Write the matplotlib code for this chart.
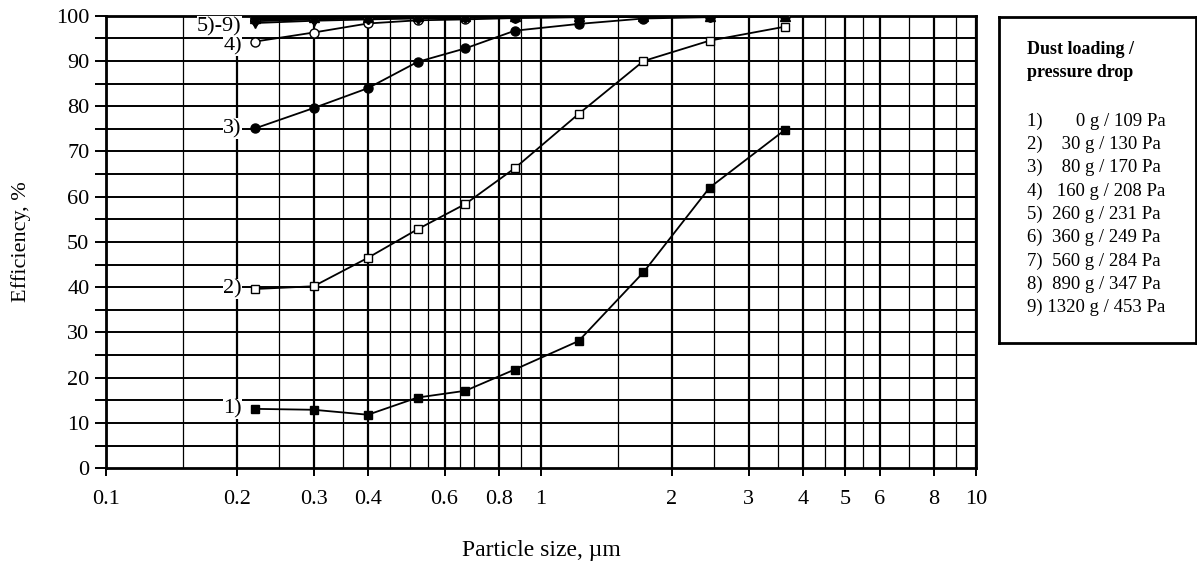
import matplotlib
matplotlib.use("Agg")
import matplotlib.pyplot as plt
from matplotlib.ticker import FixedLocator, NullFormatter

plt.rcParams['font.family'] = ['Liberation Serif', 'DejaVu Serif']

# particle size channels, um
sizes = [0.22, 0.30, 0.40, 0.52, 0.67, 0.87, 1.22, 1.72, 2.44, 3.64]

# fractional efficiency, % for each dust loading
eff_1 = [13.1, 12.9, 11.8, 15.6, 17.1, 21.8, 28.1, 43.3, 62.0, 74.8]
eff_2 = [39.6, 40.2, 46.5, 52.8, 58.4, 66.3, 78.3, 90.0, 94.5, 97.6]
eff_3 = [75.1, 79.6, 84.0, 89.8, 92.8, 96.7, 98.2, 99.4, 99.7, 99.9]
eff_4 = [94.3, 96.3, 98.3, 99.0, 99.2, 99.5, 99.7, 99.8, 99.9, 99.9]
eff_5 = [98.4, 98.9, 99.2, 99.4, 99.5, 99.6, 99.7, 99.8, 99.8, 99.9]
eff_6 = [98.8, 99.2, 99.4, 99.6, 99.7, 99.8, 99.8, 99.9, 99.9, 99.9]
eff_7 = [99.1, 99.4, 99.6, 99.7, 99.8, 99.9, 99.9, 99.9, 100.0, 100.0]
eff_8 = [99.3, 99.6, 99.7, 99.8, 99.9, 99.9, 100.0, 100.0, 100.0, 100.0]
eff_9 = [99.5, 99.7, 99.8, 99.9, 99.9, 100.0, 100.0, 100.0, 100.0, 100.0]

legend_title = ["Dust loading /", "pressure drop"]
legend_rows = ["1)       0 g / 109 Pa", "2)    30 g / 130 Pa", "3)    80 g / 170 Pa",
               "4)   160 g / 208 Pa", "5)  260 g / 231 Pa", "6)  360 g / 249 Pa",
               "7)  560 g / 284 Pa", "8)  890 g / 347 Pa", "9) 1320 g / 453 Pa"]

major_x = [0.1, 0.2, 0.3, 0.4, 0.6, 0.8, 1, 2, 3, 4, 5, 6, 8, 10]
major_lbl = ["0.1", "0.2", "0.3", "0.4", "0.6", "0.8", "1", "2", "3", "4", "5", "6", "8", "10"]
minor_x = [0.15, 0.25, 0.35, 0.45, 0.5, 0.55, 0.65, 0.7, 0.9,
           1.5, 2.5, 3.5, 4.5, 5.5, 7, 9]

fig = plt.figure(figsize=(11.97, 5.64), dpi=100)
ax = fig.add_axes([0.0886, 0.170, 0.7268, 0.802])

ax.set_xscale('log')
ax.set_xlim(0.1, 10)
ax.set_ylim(0, 100)

# grid
for v in minor_x:
    ax.axvline(v, color='black', lw=0.9, zorder=1)
for v in major_x:
    ax.axvline(v, color='black', lw=1.6, zorder=1)
for v in range(5, 100, 5):
    ax.axhline(v, color='black', lw=1.4, zorder=1)

ax.xaxis.set_major_locator(FixedLocator(major_x))
ax.set_xticklabels(major_lbl)
ax.xaxis.set_minor_locator(FixedLocator([]))
ax.xaxis.set_minor_formatter(NullFormatter())
ax.set_yticks(range(0, 101, 10))
ax.yaxis.set_minor_locator(FixedLocator(range(5, 100, 10)))
ax.tick_params(axis='both', which='both', direction='out', width=1.4, labelsize=16)
ax.tick_params(axis='x', which='major', length=6, pad=10)
ax.tick_params(axis='y', which='both', length=8, pad=4)
for s in ax.spines.values():
    s.set_linewidth(2)

series = [
    (eff_1, dict(marker='s', mfc='black', ms=6)),
    (eff_2, dict(marker='s', mfc='white', ms=6)),
    (eff_3, dict(marker='o', mfc='black', ms=6.5)),
    (eff_4, dict(marker='o', mfc='white', ms=6.5)),
    (eff_5, dict(marker='v', mfc='white', ms=6.5)),
    (eff_6, dict(marker='D', mfc='black', ms=5.5)),
    (eff_7, dict(marker='D', mfc='white', ms=5.5)),
    (eff_8, dict(marker='v', mfc='black', ms=6.5)),
    (eff_9, dict(marker='^', mfc='black', ms=6.5)),
]
for vals, st in series:
    ax.plot(sizes, vals, color='black', lw=1.3, mec='black', mew=1.0, zorder=3, **st)

# curve labels
box = dict(facecolor='white', edgecolor='none', pad=0.5)
for lbl, yv in [("1)", eff_1[0]), ("2)", eff_2[0]), ("3)", eff_3[0]),
                ("4)", 93.4), ("5)-9)", 97.6)]:
    ax.annotate(lbl, (sizes[0], yv), xytext=(-9.5, 0), textcoords='offset points',
                ha='right', va='center', fontsize=16, bbox=box, zorder=4)

ax.set_xlabel("Particle size, µm", fontsize=17, labelpad=22)
ax.set_ylabel("Efficiency, %", fontsize=16, labelpad=18)

# legend box
lax = fig.add_axes([0.8345, 0.392, 0.165, 0.578])
lax.set_xticks([])
lax.set_yticks([])
lax.set_xlim(0, 1)
lax.set_ylim(0, 1)
for s in lax.spines.values():
    s.set_linewidth(2)
for i, line in enumerate(legend_title):
    lax.text(0.14, 0.899 - i * 0.071, line, fontsize=13, fontweight='bold',
             va='center', ha='left')
for i, row in enumerate(legend_rows):
    lax.text(0.14, 0.681 - i * 0.0716, row, fontsize=13.5, va='center', ha='left')

fig.savefig("out.png", dpi=100)
